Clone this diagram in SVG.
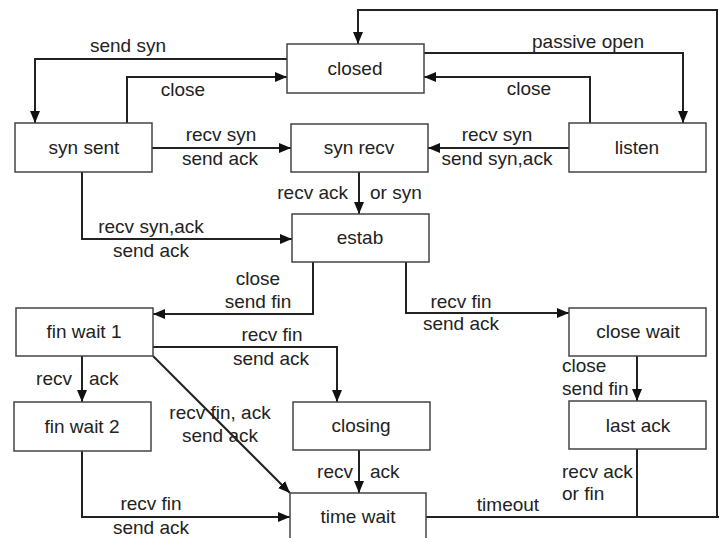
<svg xmlns="http://www.w3.org/2000/svg" width="719" height="538" viewBox="0 0 719 538">
<defs>
<marker id="arr" viewBox="0 0 12 10" refX="12" refY="5" markerWidth="12" markerHeight="10" markerUnits="userSpaceOnUse" orient="auto">
<path d="M0,0 L12,5 L0,10 Z" fill="#111"/>
</marker>
<style>
.box rect{fill:#fff;stroke:#444;stroke-width:1.5}
text{font-family:"Liberation Sans",Arial,sans-serif;font-size:19px;fill:#222}
.box text{text-anchor:middle}
.c{text-anchor:middle}
.e{text-anchor:end}
.conn path{fill:none;stroke:#222;stroke-width:2}
.a{marker-end:url(#arr)}
</style>
</defs>
<rect width="719" height="538" fill="#fff"/>
<g id="connectors" class="conn">
<path class="a" d="M717,517 V10 H358 V44"/>
<path class="a" d="M287,59 H35 V123"/>
<path class="a" d="M127,123 V77 H287"/>
<path class="a" d="M424,53 H683 V123"/>
<path class="a" d="M590,123 V77 H424"/>
<path class="a" d="M152,148 H291"/>
<path class="a" d="M569,148 H428"/>
<path class="a" d="M359,172 V214"/>
<path class="a" d="M82,172 V239 H292"/>
<path class="a" d="M313,262 V314 H153"/>
<path class="a" d="M406,262 V313 H569"/>
<path class="a" d="M153,347 H337 V402"/>
<path class="a" d="M82,356 V402"/>
<path class="a" d="M153,356 L290,493"/>
<path class="a" d="M359,450 V493"/>
<path class="a" d="M82,451 V517 H290"/>
<path class="a" d="M637,356 V401"/>
<path d="M637,449 V517"/>
<path d="M426,517 H719"/>
</g>
<g id="labels">
<text x="128" y="52" class="c">send syn</text>
<text x="183" y="96" class="c">close</text>
<text x="588" y="48" class="c">passive open</text>
<text x="529" y="95" class="c">close</text>
<text x="221" y="141" class="c">recv syn</text>
<text x="220" y="165" class="c">send ack</text>
<text x="497" y="141" class="c">recv syn</text>
<text x="497" y="165" class="c">send syn,ack</text>
<text x="348" y="199" class="e">recv ack</text>
<text x="370" y="199">or syn</text>
<text x="151" y="233" class="c">recv syn,ack</text>
<text x="151" y="257" class="c">send ack</text>
<text x="258" y="285" class="c">close</text>
<text x="258" y="308" class="c">send fin</text>
<text x="461" y="308" class="c">recv fin</text>
<text x="461" y="330" class="c">send ack</text>
<text x="272" y="341" class="c">recv fin</text>
<text x="271" y="365" class="c">send ack</text>
<text x="72" y="385" class="e">recv</text>
<text x="89" y="385">ack</text>
<text x="220" y="419" class="c">recv fin, ack</text>
<text x="220" y="442" class="c">send ack</text>
<text x="353" y="478" class="e">recv</text>
<text x="370" y="478">ack</text>
<text x="151" y="510" class="c">recv fin</text>
<text x="151" y="534" class="c">send ack</text>
<text x="508" y="511" class="c">timeout</text>
<text x="562" y="372">close</text>
<text x="562" y="395">send fin</text>
<text x="562" y="478">recv ack</text>
<text x="562" y="500">or fin</text>
</g>
<g id="closed" class="box"><rect x="287" y="44" width="137" height="49"/><text x="355" y="75">closed</text></g>
<g id="syn_sent" class="box"><rect x="15" y="123" width="137" height="49"/><text x="84" y="154">syn sent</text></g>
<g id="syn_recv" class="box"><rect x="291" y="124" width="137" height="48"/><text x="359" y="154">syn recv</text></g>
<g id="listen" class="box"><rect x="569" y="123" width="137" height="49"/><text x="637" y="154">listen</text></g>
<g id="estab" class="box"><rect x="292" y="214" width="137" height="48"/><text x="360" y="244">estab</text></g>
<g id="fin_wait_1" class="box"><rect x="16" y="308" width="137" height="48"/><text x="84" y="338">fin wait 1</text></g>
<g id="close_wait" class="box"><rect x="569" y="308" width="137" height="48"/><text x="638" y="338">close wait</text></g>
<g id="fin_wait_2" class="box"><rect x="14" y="402" width="137" height="49"/><text x="82" y="433">fin wait 2</text></g>
<g id="closing" class="box"><rect x="293" y="402" width="137" height="48"/><text x="361" y="432">closing</text></g>
<g id="last_ack" class="box"><rect x="569" y="401" width="137" height="48"/><text x="638" y="432">last ack</text></g>
<g id="time_wait" class="box"><rect x="290" y="493" width="136" height="60"/><text x="358" y="523">time wait</text></g>
</svg>
